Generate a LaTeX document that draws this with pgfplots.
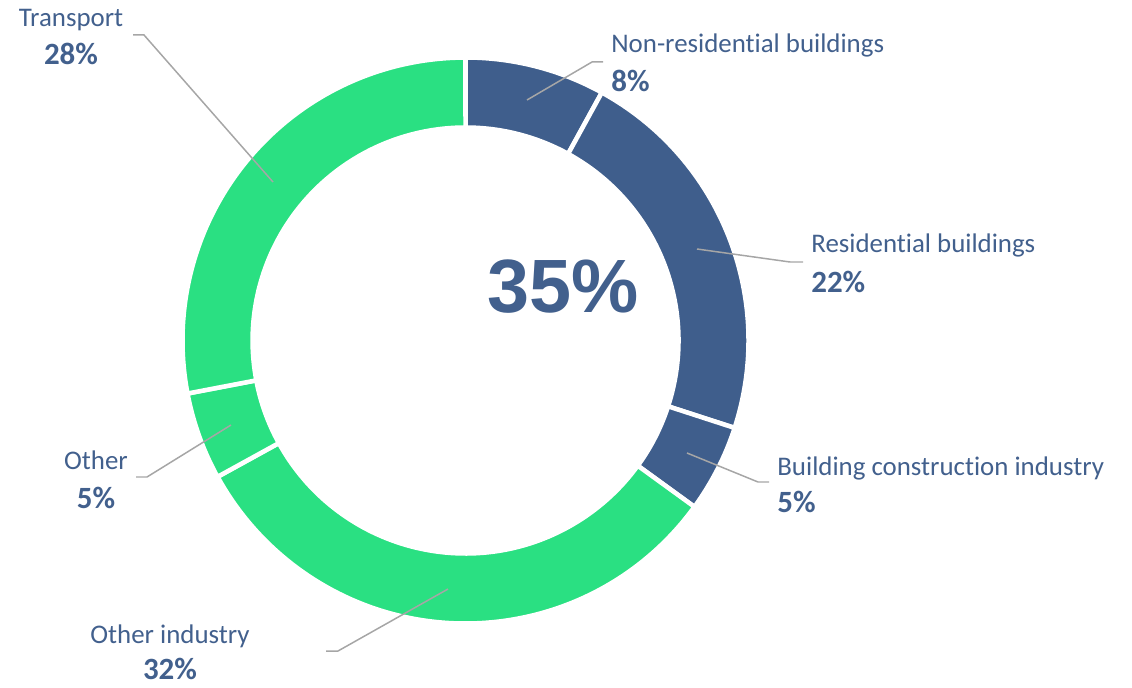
\documentclass[border=0pt]{standalone}
\usepackage{pgfplots}
\usepackage{pgfplotstable}
\pgfplotsset{compat=1.18}
\usepackage{fontspec}
\setmainfont{Carlito}[Ligatures=NoCommon]
\newfontfamily\arialfont{Liberation Sans}

\definecolor{dblue}{HTML}{3F5E8C}
\definecolor{lgreen}{HTML}{2AE082}
\definecolor{txt}{HTML}{42608D}
\definecolor{lead}{HTML}{A6A6A6}

% shares of the ring, clockwise from 12 o'clock
\pgfplotstableread{
value colour
8  dblue
22 dblue
5  dblue
32 lgreen
5  lgreen
28 lgreen
}\donut

\newcommand\lbl[1]{\fontsize{15.3}{18}\selectfont #1}
\newcommand\pct[1]{\fontsize{17.6}{20}\selectfont\bfseries #1}

\begin{document}
\begin{tikzpicture}
\begin{axis}[
    x=0.02cm, y=0.02cm,
    xmin=0, xmax=1132, ymin=0, ymax=687,
    hide axis, clip=false, scale only axis,
]
\path (rel axis cs:0,0) rectangle (rel axis cs:1,1);

\pgfplotstablegetrowsof{\donut}
\pgfmathtruncatemacro\nrows{\pgfplotsretval-1}
\def\cum{0}
\pgfplotsforeachungrouped \i in {0,...,\nrows}{
  \pgfplotstablegetelem{\i}{value}\of\donut \let\val\pgfplotsretval
  \pgfplotstablegetelem{\i}{colour}\of\donut \let\col\pgfplotsretval
  \pgfmathsetmacro\aS{90-3.6*\cum}
  \pgfmathsetmacro\aE{90-3.6*(\cum+\val)}
  \edef\temp{\noexpand\fill[\col, draw=white, line width=0.09cm, line join=miter]
    (axis cs:{465.5+283*cos(\aS)},{346.5+283*sin(\aS)})
    arc[start angle=\aS, end angle=\aE, radius=5.66cm]
    -- (axis cs:{465.5+213*cos(\aE)},{346.5+213*sin(\aE)})
    arc[start angle=\aE, end angle=\aS, radius=4.26cm] -- cycle;}
  \temp
  \pgfmathsetmacro\cum{\cum+\val}
}

% leader lines
\addplot[lead, line width=0.85pt] coordinates {(273,505) (144,652) (133,652)};
\addplot[lead, line width=0.85pt] coordinates {(527,587) (592,625) (603,625)};
\addplot[lead, line width=0.85pt] coordinates {(697,438) (790,425) (803,425)};
\addplot[lead, line width=0.85pt] coordinates {(687,234) (758,205) (769,205)};
\addplot[lead, line width=0.85pt] coordinates {(231,262) (147,210) (136,210)};
\addplot[lead, line width=0.85pt] coordinates {(448,98) (338,36) (326,36)};

% labels
\begin{scope}[every node/.style={text=txt, inner sep=0pt}]
\node[anchor=base] at (axis cs:71,660) {\lbl{Transport}};
\node[anchor=base] at (axis cs:71,622) {\pct{28\%}};
\node[anchor=base west] at (axis cs:611,634) {\lbl{Non-residential buildings}};
\node[anchor=base west] at (axis cs:611,595) {\pct{8\%}};
\node[anchor=base west] at (axis cs:811,434) {\lbl{Residential buildings}};
\node[anchor=base west] at (axis cs:811,395) {\pct{22\%}};
\node[anchor=base west] at (axis cs:777,212) {\lbl{Building construction industry}};
\node[anchor=base west] at (axis cs:777,175) {\pct{5\%}};
\node[anchor=base] at (axis cs:96,218) {\lbl{Other}};
\node[anchor=base] at (axis cs:96,179) {\pct{5\%}};
\node[anchor=base] at (axis cs:170,44) {\lbl{Other industry}};
\node[anchor=base] at (axis cs:170,8) {\pct{32\%}};
\node[anchor=base] at (axis cs:563,375) {\arialfont\bfseries\fontsize{43}{50}\selectfont 35\%};
\end{scope}
\end{axis}
\end{tikzpicture}
\end{document}
